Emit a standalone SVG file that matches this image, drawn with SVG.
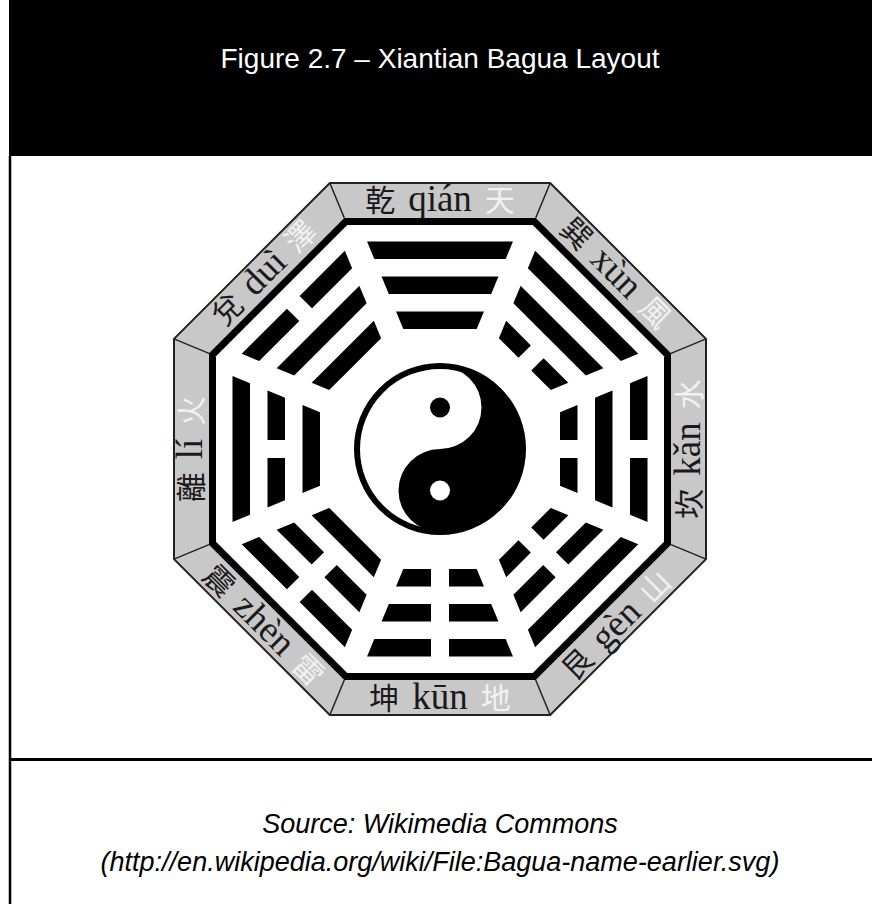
<svg xmlns="http://www.w3.org/2000/svg" xmlns:xlink="http://www.w3.org/1999/xlink" width="872" height="904" viewBox="0 0 872 904">
<style>
.title{font-family:"Liberation Sans",Arial,sans-serif;font-size:28px;fill:#fff;text-anchor:middle}
.src{font-family:"Liberation Sans",Arial,sans-serif;font-size:27px;font-style:italic;fill:#000;text-anchor:middle}
.lbl{font-family:"Liberation Serif","Noto Sans CJK TC",serif;font-size:37px;fill:#1a1a1a;text-anchor:middle}
.cj{font-family:"Noto Sans CJK TC",sans-serif;font-size:30px}
.nat{fill:#f2f2f2}
.bar{fill:#000}
.sep{stroke:#222;stroke-width:1.5}
</style>
<defs>
<path id="yang-in" d="M-43.95,-137.5 L43.95,-137.5 L36.71,-120 L-36.71,-120 Z"/>
<path id="yang-mid" d="M-58.45,-172.5 L58.45,-172.5 L51.2,-155 L-51.2,-155 Z"/>
<path id="yang-out" d="M-72.95,-207.5 L72.95,-207.5 L65.7,-190 L-65.7,-190 Z"/>
<path id="yin-in" d="M-43.95,-137.5 L-9,-137.5 L-9,-120 L-36.71,-120 Z M9,-137.5 L43.95,-137.5 L36.71,-120 L9,-120 Z"/>
<path id="yin-mid" d="M-58.45,-172.5 L-9,-172.5 L-9,-155 L-51.2,-155 Z M9,-172.5 L58.45,-172.5 L51.2,-155 L9,-155 Z"/>
<path id="yin-out" d="M-72.95,-207.5 L-9,-207.5 L-9,-190 L-65.7,-190 Z M9,-207.5 L72.95,-207.5 L65.7,-190 L9,-190 Z"/>
</defs>
<rect width="872" height="904" fill="#fff"/>
<g id="frame">
<rect x="9" y="0" width="863" height="156" fill="#000"/>
<line x1="10" y1="156" x2="10" y2="904" stroke="#000" stroke-width="2.5"/>
<line x1="9" y1="759.5" x2="872" y2="759.5" stroke="#000" stroke-width="2.8"/>
</g>
<g id="title"><text class="title" x="440" y="68">Figure 2.7 – Xiantian Bagua Layout</text></g>
<g id="bagua-frame">
<polygon points="550.18,183 706,338.82 706,559.18 550.18,715 329.82,715 174,559.18 174,338.82 329.82,183" fill="#c8c8c8" stroke="#222" stroke-width="2"/>
<polygon points="535.68,218 671,353.32 671,544.68 535.68,680 344.32,680 209,544.68 209,353.32 344.32,218" fill="#000"/>
<polygon points="532.78,225 664,356.22 664,541.78 532.78,673 347.22,673 216,541.78 216,356.22 347.22,225" fill="#fff"/>
<g class="sep">
<line x1="550.18" y1="183" x2="535.68" y2="218"/>
<line x1="706" y1="338.82" x2="671" y2="353.32"/>
<line x1="706" y1="559.18" x2="671" y2="544.68"/>
<line x1="550.18" y1="715" x2="535.68" y2="680"/>
<line x1="329.82" y1="715" x2="344.32" y2="680"/>
<line x1="174" y1="559.18" x2="209" y2="544.68"/>
<line x1="174" y1="338.82" x2="209" y2="353.32"/>
<line x1="329.82" y1="183" x2="344.32" y2="218"/>
</g>
</g>
<g id="trigram-qian" class="bar" transform="translate(440,449) rotate(0)"><use xlink:href="#yang-in"/><use xlink:href="#yang-mid"/><use xlink:href="#yang-out"/></g>
<g id="trigram-xun" class="bar" transform="translate(440,449) rotate(45)"><use xlink:href="#yin-in"/><use xlink:href="#yang-mid"/><use xlink:href="#yang-out"/></g>
<g id="trigram-kan" class="bar" transform="translate(440,449) rotate(90)"><use xlink:href="#yin-in"/><use xlink:href="#yang-mid"/><use xlink:href="#yin-out"/></g>
<g id="trigram-gen" class="bar" transform="translate(440,449) rotate(135)"><use xlink:href="#yin-in"/><use xlink:href="#yin-mid"/><use xlink:href="#yang-out"/></g>
<g id="trigram-kun" class="bar" transform="translate(440,449) rotate(180)"><use xlink:href="#yin-in"/><use xlink:href="#yin-mid"/><use xlink:href="#yin-out"/></g>
<g id="trigram-zhen" class="bar" transform="translate(440,449) rotate(225)"><use xlink:href="#yang-in"/><use xlink:href="#yin-mid"/><use xlink:href="#yin-out"/></g>
<g id="trigram-li" class="bar" transform="translate(440,449) rotate(270)"><use xlink:href="#yang-in"/><use xlink:href="#yin-mid"/><use xlink:href="#yang-out"/></g>
<g id="trigram-dui" class="bar" transform="translate(440,449) rotate(315)"><use xlink:href="#yang-in"/><use xlink:href="#yang-mid"/><use xlink:href="#yin-out"/></g>
<g id="yinyang">
<circle cx="440" cy="449" r="83" fill="#fff" stroke="#000" stroke-width="6"/>
<path d="M440,366 A83,83 0 0 1 440,532 A41.5,41.5 0 0 1 440,449 A41.5,41.5 0 0 0 440,366 Z" fill="#000"/>
<circle cx="440" cy="407.5" r="10" fill="#000"/>
<circle cx="440" cy="490.5" r="10" fill="#fff"/>
</g>
<g id="label-qian" transform="translate(440,200) rotate(0)"><text class="lbl" y="11"><tspan class="cj">乾</tspan><tspan dx="13">qián</tspan><tspan class="cj nat" dx="13">天</tspan></text></g>
<g id="label-xun" transform="translate(616.07,272.93) rotate(45)"><text class="lbl" y="11"><tspan class="cj">巽</tspan><tspan dx="13">xùn</tspan><tspan class="cj nat" dx="13">風</tspan></text></g>
<g id="label-kan" transform="translate(689,449) rotate(-90)"><text class="lbl" y="11"><tspan class="cj">坎</tspan><tspan dx="13">kǎn</tspan><tspan class="cj nat" dx="13">水</tspan></text></g>
<g id="label-gen" transform="translate(616.07,625.07) rotate(-45)"><text class="lbl" y="11"><tspan class="cj">艮</tspan><tspan dx="13">gèn</tspan><tspan class="cj nat" dx="13">山</tspan></text></g>
<g id="label-kun" transform="translate(440,698) rotate(0)"><text class="lbl" y="11"><tspan class="cj">坤</tspan><tspan dx="13">kūn</tspan><tspan class="cj nat" dx="13">地</tspan></text></g>
<g id="label-zhen" transform="translate(263.93,625.07) rotate(45)"><text class="lbl" y="11"><tspan class="cj">震</tspan><tspan dx="13">zhèn</tspan><tspan class="cj nat" dx="13">雷</tspan></text></g>
<g id="label-li" transform="translate(191,449) rotate(-90)"><text class="lbl" y="11"><tspan class="cj">離</tspan><tspan dx="13">lí</tspan><tspan class="cj nat" dx="13">火</tspan></text></g>
<g id="label-dui" transform="translate(263.93,272.93) rotate(-45)"><text class="lbl" y="11"><tspan class="cj">兌</tspan><tspan dx="13">duì</tspan><tspan class="cj nat" dx="13">澤</tspan></text></g>
<g id="source">
<text class="src" x="440" y="833">Source: Wikimedia Commons</text>
<text class="src" x="440" y="871">(http://en.wikipedia.org/wiki/File:Bagua-name-earlier.svg)</text>
</g>
</svg>
